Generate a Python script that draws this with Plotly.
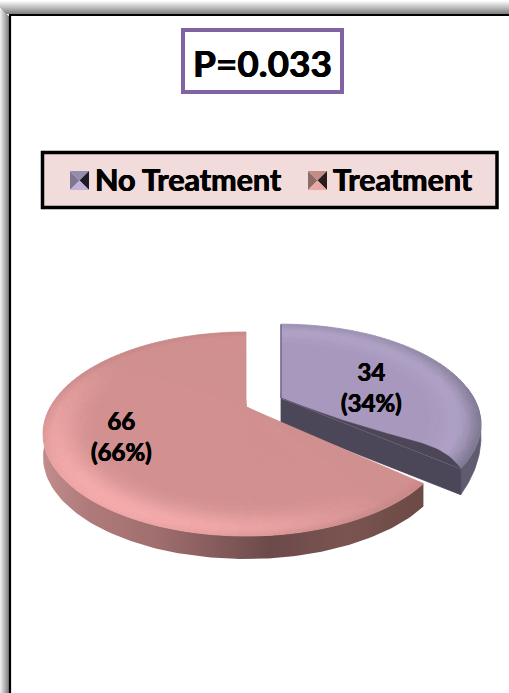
import numpy as np
import plotly.graph_objects as go

categories = ["No Treatment", "Treatment"]
values = [34, 66]
p_label = "P=0.033"

W, H = 509, 693
FONT = "Lato"
HEAVY = "0.45px 0 0 black, -0.45px 0 0 black"

# projected geometry of the disc, in page pixels
CX, CY, RX, RY = 246.0, 434.0, 203.0, 102.0
HUB = np.array([246.0, 407.0])
SQUASH = [0.62, 0.68]
DEPTH = 23.0
EXPLODE = [np.array([35.0, -9.0]), np.array([0.0, 0.0])]
RIM_SCALE = [0.985, 1.0]


def rim(theta, squash):
    """Where a clockwise-from-top pie angle meets the outer ellipse."""
    dx, dy = np.sin(theta), -squash * np.cos(theta)
    ox, oy = HUB[0] - CX, HUB[1] - CY
    a = (dx / RX) ** 2 + (dy / RY) ** 2
    b = 2 * (ox * dx / RX**2 + oy * dy / RY**2)
    c = (ox / RX) ** 2 + (oy / RY) ** 2 - 1
    k = (-b + np.sqrt(b * b - 4 * a * c)) / (2 * a)
    return np.column_stack([HUB[0] + k * dx, HUB[1] + k * dy])


def mix(c1, c2, f):
    return tuple(c1[i] + (c2[i] - c1[i]) * f for i in range(3))


def hexa(c):
    q = [int(min(255, max(0, round(v / 2) * 2))) for v in c]
    return f"rgb({q[0]},{q[1]},{q[2]})"


def pink_colour(t, d):
    base, hi, edge = (209, 143, 143), (244, 170, 170), (200, 136, 136)
    light = max(0.0, np.cos(t - np.radians(135))) ** 0.9
    peak = np.exp(-(((d - 0.2) / 0.42) ** 2))
    c = mix(base, hi, light * peak)
    rimmy = max(0.0, 1 - d / 0.2) * (1 - light)
    return mix(c, edge, rimmy)


def violet_colour(t, d):
    base, hi, edge = (168, 152, 190), (182, 169, 203), (122, 118, 142)
    peak = np.exp(-(((d - 0.35) / 0.35) ** 2))
    c = mix(base, hi, 0.55 * peak)
    side = 0.3 + 0.7 * max(0.0, np.cos(t - np.radians(25)))
    return mix(c, edge, side * max(0.0, 1 - d / 0.45) ** 1.4)


SHADERS = [violet_colour, pink_colour]
fig = go.Figure()


def add_polys(polys, colour, line=0.8):
    xs, ys = [], []
    for poly in polys:
        xs += list(poly[:, 0]) + [poly[0, 0], None]
        ys += list(poly[:, 1]) + [poly[0, 1], None]
    fig.add_trace(go.Scatter(
        x=xs, y=ys, mode="lines", fill="toself", fillcolor=colour,
        line=dict(color=colour, width=line), hoverinfo="skip", showlegend=False,
    ))


def top_face(th0, th1, shift, scale, squash, shader):
    arcs = np.linspace(th0, th1, int((th1 - th0) / np.radians(2.0)) + 2)
    edge = rim(arcs, squash)
    stops = np.concatenate([[0.0, 0.7], np.linspace(0.72, 1.0, 19)])
    buckets = {}
    for i in range(len(arcs) - 1):
        mid = (edge[i] + edge[i + 1]) / 2
        t = np.arctan2((mid[1] - CY) / RY, (mid[0] - CX) / RX)
        for j in range(len(stops) - 1):
            s0, s1 = stops[j], stops[j + 1]
            quad = np.array([
                HUB + s0 * (edge[i] - HUB), HUB + s0 * (edge[i + 1] - HUB),
                HUB + s1 * (edge[i + 1] - HUB), HUB + s1 * (edge[i] - HUB),
            ])
            quad = HUB + (quad - HUB) * scale + shift
            d = (1 - (s0 + s1) / 2) / 0.28
            buckets.setdefault(hexa(shader(t, d)), []).append(quad)
    for colour, polys in buckets.items():
        add_polys(polys, colour)


fractions = np.array(values) / sum(values)
limits = np.concatenate([[0.0], np.cumsum(fractions)]) * 2 * np.pi

# slice 0 sits behind slice 1: side walls first, then its top
th0, th1 = limits[0], limits[1]
shift, scale = EXPLODE[0], RIM_SCALE[0]
tip = HUB + (rim(np.array([th1]), SQUASH[0])[0] - HUB) * scale + shift
hub0 = HUB + shift
down = np.array([0, DEPTH + 3])
outer = HUB + (rim(np.linspace(np.radians(85), th1, 40), SQUASH[0]) - HUB) * scale + shift
# the outer wall tapers away toward the far right of the rim
taper = np.linspace(0, 1, len(outer))[:, None]
add_polys([np.vstack([outer, (outer + down * taper)[::-1]])], "#615b70")
add_polys([np.vstack([hub0, tip, tip + down, hub0 + down])], "#4c4659")
top_face(th0, th1, shift, scale, SQUASH[0], SHADERS[0])

# rounded bevel along the cut edge: the dark wall rises above the straight chord
frac = np.linspace(0, 1, 60)
lift = 18 * frac**2 * (1 - frac**10)
chord = hub0 + frac[:, None] * (tip - hub0)
add_polys([np.vstack([chord, (chord - np.column_stack([0 * lift, lift]))[::-1]])],
          "#4c4659", line=0.5)

cut = np.vstack([hub0, HUB + (rim(np.array([th0]), SQUASH[0])[0] - HUB) * scale + shift])
fig.add_trace(go.Scatter(x=cut[:, 0], y=cut[:, 1], mode="lines",
                         line=dict(color="#6f6a85", width=1.5),
                         hoverinfo="skip", showlegend=False))

# slice 1: wall gradient runs left to right along the front of the disc
th0, th1 = limits[1], limits[2]
arc = rim(np.linspace(th0, np.radians(270), 120), SQUASH[1])
wall = np.vstack([arc, (arc + [0, DEPTH])[::-1]])
fig.add_trace(go.Scatter(
    x=wall[:, 0], y=wall[:, 1], mode="lines", fill="toself",
    line=dict(width=0, color="rgba(0,0,0,0)"),
    fillgradient=dict(
        type="horizontal", start=43, stop=422,
        colorscale=[[0, "#c08c8c"], [0.12, "#b07a7a"], [0.3, "#a06e6e"],
                    [0.52, "#7a5454"], [0.6, "#6c4a4a"], [0.8, "#7a5450"],
                    [1, "#6c4a46"]],
    ),
    hoverinfo="skip", showlegend=False,
))
top_face(th0, th1, EXPLODE[1], RIM_SCALE[1], SQUASH[1], SHADERS[1])

# slice labels state count and share of the total
label_pos = [(371, 387), (121, 436)]
annotations = []
for v, (lx, ly) in zip(values, label_pos):
    pct = round(100 * v / sum(values))
    annotations.append(dict(
        x=lx, y=ly, xref="x", yref="y", showarrow=False,
        text=f"<b>{v}<br>({pct}%)</b>", align="center",
        font=dict(family=FONT, size=24, color="black", shadow=HEAVY),
    ))

# p-value box and key text
annotations.append(dict(
    x=262, y=62, xref="x", yref="y", showarrow=False,
    text=f"<b>{p_label}</b>", font=dict(family=FONT, size=37, color="black", shadow=HEAVY),
))
annotations.append(dict(
    x=93, y=179, xref="x", yref="y", showarrow=False, xanchor="left",
    text=f"<b>{categories[0]}</b>", font=dict(family=FONT, size=30.5, color="black", shadow=HEAVY),
))
annotations.append(dict(
    x=331, y=179, xref="x", yref="y", showarrow=False, xanchor="left",
    text=f"<b>{categories[1]}</b>", font=dict(family=FONT, size=30.5, color="black", shadow=HEAVY),
))

shapes = []


def rect(x0, y0, x1, y1, fill, lw=0, lc=None, layer="below"):
    shapes.append(dict(
        type="rect", xref="x", yref="y", x0=x0, y0=y0, x1=x1, y1=y1,
        fillcolor=fill, line=dict(width=lw, color=lc or fill), layer=layer,
    ))


# soft shadow around the page frame
for i in range(13):
    g = int(248 - 118 * (i / 12))
    rect(0, i + 1, W, i + 2, f"rgb({g},{g},{g})")
for i in range(9):
    g = int(235 - 105 * (i / 8))
    rect(i, 8 + i, i + 1, H, f"rgb({g},{g},{g})")
rect(10, 15, W + 20, H + 20, "white", 2.2, "black")

rect(183, 30, 342, 92, "white", 4, "#8064a2")
rect(42.5, 152.5, 497, 207.5, "#f2dcdb", 3.5, "black")


def key_glyph(x0, y0, size, left, top, right, bottom):
    cx, cy = x0 + size / 2, y0 + size / 2
    x1, y1 = x0 + size, y0 + size
    tris = [
        (left, [(x0, y0), (cx, cy), (x0, y1)]),
        (top, [(x0, y0), (x1, y0), (cx, cy)]),
        (right, [(x1, y0), (x1, y1), (cx, cy)]),
        (bottom, [(x0, y1), (cx, cy), (x1, y1)]),
    ]
    for colour, pts in tris:
        path = "M" + " L".join(f"{a},{b}" for a, b in pts) + " Z"
        shapes.append(dict(type="path", xref="x", yref="y", path=path,
                           fillcolor=colour, line=dict(width=0), layer="above"))


key_glyph(70, 171, 19, "#7f7694", "#968cab", "#201a28", "#c1b2da")
key_glyph(308, 171, 19, "#8f6b68", "#c08c86", "#2a1c1c", "#e8a8a4")

fig.update_layout(
    width=W, height=H, margin=dict(l=0, r=0, t=0, b=0),
    paper_bgcolor="white", plot_bgcolor="white",
    xaxis=dict(range=[0, W], visible=False, fixedrange=True),
    yaxis=dict(range=[H, 0], visible=False, fixedrange=True),
    showlegend=False, shapes=shapes, annotations=annotations,
)
fig.write_html("out.html", config=dict(displayModeBar=False))
